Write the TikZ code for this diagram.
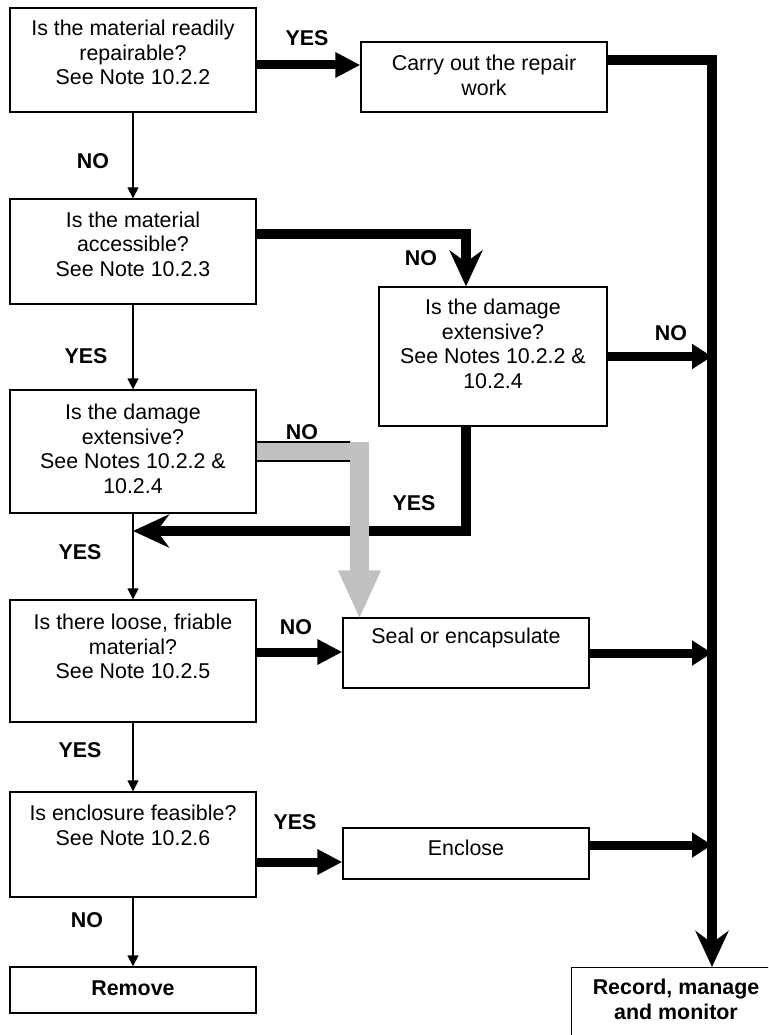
\documentclass[tikz,border=0pt]{standalone}
\usepackage{fontspec}
\setmainfont{Liberation Sans}
\usetikzlibrary{arrows.meta}
\definecolor{flowgrey}{HTML}{C0C0C0}
\begin{document}
\begin{tikzpicture}[x=1pt,y=-1pt,
  box/.style={draw=black, line width=1.3pt, rectangle, inner sep=0pt},
  txt/.style={align=center, inner sep=0pt, font=\fontsize{21.4}{24.5}\selectfont},
  lbl/.style={inner sep=0pt, font=\fontsize{21.4}{24.5}\selectfont\bfseries},
  flow/.style={line width=1.3pt, -{Triangle[length=11pt,width=11pt]}},
  heavy/.style={line width=10.5pt, line join=miter},
  tri/.style={heavy, line width=9pt, -{Triangle[length=25pt,width=24pt]}},
  trirail/.style={heavy, line width=9pt, -{Triangle[length=20pt,width=24pt]}},
  barb/.style={heavy, -{Stealth[length=36pt,width=33pt,inset=12pt]}},
]
\useasboundingbox (0,0) rectangle (768,1035);
\clip (0,0) rectangle (768,1035);

% decision and action boxes
\node[box, minimum width=246pt, minimum height=104pt] (q1) at (133,60) {};
\node[box, minimum width=246pt, minimum height=70pt] (carry) at (484,77) {};
\node[box, minimum width=246pt, minimum height=105pt] (q2) at (133,251.5) {};
\node[box, minimum width=228pt, minimum height=139pt] (d2) at (493,356.5) {};
\node[box, minimum width=246pt, minimum height=123pt] (d1) at (133,451.5) {};
\node[box, minimum width=246pt, minimum height=122pt] (q4) at (133,661) {};
\node[box, minimum width=246pt, minimum height=70pt] (seal) at (466,653) {};
\node[box, minimum width=246pt, minimum height=105pt] (q5) at (133,844.5) {};
\node[box, minimum width=246pt, minimum height=51pt] (encl) at (466,853.5) {};
\node[box, minimum width=246pt, minimum height=46pt] (remove) at (133,990) {};
\node[box, minimum width=210pt, minimum height=80pt, anchor=north west] (record) at (571,967) {};

% box texts
\node[txt] (t1) at (133,52.5) {Is the material readily\\repairable?\\See Note 10.2.2};
\node[txt] (tcarry) at (484,75.5) {Carry out the repair\\work};
\node[txt] (t2) at (133,244.3) {Is the material\\accessible?\\See Note 10.2.3};
\node[txt] (td2) at (493,343.8) {Is the damage\\extensive?\\See Notes 10.2.2 \&\\10.2.4};
\node[txt] (td1) at (133,449) {Is the damage\\extensive?\\See Notes 10.2.2 \&\\10.2.4};
\node[txt] (t4) at (133,646.7) {Is there loose, friable\\material?\\See Note 10.2.5};
\node[txt] (tseal) at (466,638) {Seal or encapsulate};
\node[txt] (t5) at (133,825.5) {Is enclosure feasible?\\See Note 10.2.6};
\node[txt] (tencl) at (466,848) {Enclose};
\node[txt, font=\fontsize{21.4}{24.5}\selectfont\bfseries] (tremove) at (133,988) {Remove};
\node[txt, font=\fontsize{21.4}{24.5}\selectfont\bfseries] (trecord) at (676,999.5) {Record, manage\\and monitor};

% answer labels
\node[lbl] (l1) at (307,38) {YES};
\node[lbl] (l2) at (93,161) {NO};
\node[lbl] (l3) at (421,258) {NO};
\node[lbl] (l4) at (86,356) {YES};
\node[lbl] (l5) at (671,333) {NO};
\node[lbl] (l6) at (302,432) {NO};
\node[lbl] (l7) at (414,503) {YES};
\node[lbl] (l8) at (80,552) {YES};
\node[lbl] (l9) at (296,627) {NO};
\node[lbl] (l10) at (80,750) {YES};
\node[lbl] (l11) at (295,822) {YES};
\node[lbl] (l12) at (87,920) {NO};

% main column
\draw[flow] (q1.south) -- (q2.north);
\draw[flow] (q2.south) -- (d1.north);
\draw[flow] (d1.south) -- (q4.north);
\draw[flow] (q4.south) -- (q5.north);
\draw[flow] (q5.south) -- (remove.north);

% heavy routes
\coordinate (rail) at (712,60);
\coordinate (merge) at (133,531);
\coordinate (a1) at ([yshift=-5pt]q1.east);
\coordinate (a2) at ([yshift=17.5pt]q2.east);
\coordinate (a3) at ([xshift=-27pt]d2.north);
\coordinate (a4) at ([xshift=-27pt]d2.south);
\coordinate (a5) at ([yshift=9pt]q4.east);
\coordinate (a6) at ([yshift=-17.5pt]q5.east);
\coordinate (a7) at ([yshift=8.5pt]encl.east);
\coordinate (a8) at ([yshift=17pt]carry.east);

\draw[tri] (a1) -- (a1 -| carry.west);
\draw[barb] (a8) -- (rail) -- (rail |- record.north);
\draw[barb] (a2) -| (a3);
\draw[trirail] (d2.east) -- (d2.east -| rail);
\draw[barb] (a4) |- (merge);
\draw[tri] (a5) -- (a5 -| seal.west);
\draw[trirail] (seal.east) -- (seal.east -| rail);
\draw[tri] (a6) -- (a6 -| encl.west);
\draw[trirail] (a7) -- (a7 -| rail);

% grey route from the left damage question to sealing
\coordinate (g1) at ([xshift=-106.5pt,yshift=-2pt]seal.north);
\draw[line width=19pt, flowgrey, line join=miter, -{Triangle[length=49pt,width=39pt]}] (d1.east) -| (g1);
\draw[line width=1.3pt] ([yshift=9.5pt]d1.east) -- ++(93,0);
\draw[line width=1.3pt] ([yshift=-9.5pt]d1.east) -- ++(93,0);
\end{tikzpicture}
\end{document}
